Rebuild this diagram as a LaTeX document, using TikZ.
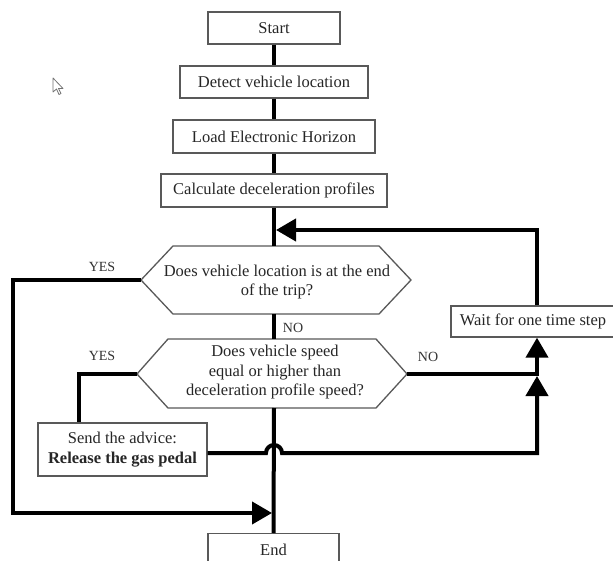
\documentclass[tikz,border=0pt]{standalone}
\usepackage{fontspec}
\setmainfont{Liberation Serif}
\usetikzlibrary{arrows.meta}
\begin{document}
\begin{tikzpicture}[x=1pt,y=-1pt,
  box/.style={draw=black!65, line width=1.3pt, fill=white, inner sep=0pt,
    text=black!85, font=\fontsize{16.5}{19.5}\selectfont, align=center},
  hexline/.style={draw=black!65, line width=1.3pt, fill=white, line join=miter},
  qtext/.style={inner sep=0pt, text=black!85, font=\fontsize{16.5}{19.5}\selectfont, align=center},
  flow/.style={line width=4pt, black, line join=miter},
  tip/.style={-{Triangle[length=20pt,width=22pt]}},
  lbl/.style={inner sep=0pt, text=black!80, font=\fontsize{14}{16}\selectfont}
]
\useasboundingbox (0,0) rectangle (613,561);
\clip (0,0) rectangle (613,561);
\fill[white] (0,0) rectangle (613,561);

% mouse pointer
\draw[black!55, fill=white, line width=0.8pt, line join=round]
  (53,78) -- (53,92) -- (56.5,89) -- (59,94.5) -- (61,93.5) -- (58.5,88.5) -- (63,88.5) -- cycle;

% routing points
\coordinate (q1n) at (274,246);
\coordinate (q1s) at (274,314);
\coordinate (q1w) at (141,280);
\coordinate (q1e) at (411,280);
\coordinate (q2n) at (274,339);
\coordinate (q2s) at (274,408);
\coordinate (q2w) at (137,374);
\coordinate (q2e) at (407,374);
\coordinate (loopTop) at (537,230);
\coordinate (mergeTip) at (276,230);
\coordinate (loopNo) at (537,374);
\coordinate (loopNoTip) at (537,376);
\coordinate (loopSend) at (537,453);
\coordinate (hopL) at (266,453);
\coordinate (yesA) at (13,280);
\coordinate (yesB) at (13,513);
\coordinate (endTip) at (272,513);
\coordinate (yes2A) at (79,374);

% decision shapes
\draw[hexline] (q1w) -- (173,246) -- (379,246) -- (q1e) -- (379,314) -- (173,314) -- cycle;
\draw[hexline] (q2w) -- (168,339) -- (376,339) -- (q2e) -- (376,408) -- (168,408) -- cycle;
\node[qtext] (q1) at (277,282) {Does vehicle location is at the end\\of the trip?};
\node[qtext] (q2) at (275,372.5) {Does vehicle speed\\equal or higher than\\deceleration profile speed?};

% process boxes
\node[box, minimum width=132pt, minimum height=32pt] (start) at (274,28) {Start};
\node[box, minimum width=188pt, minimum height=32pt] (detect) at (274,82) {Detect vehicle location};
\node[box, minimum width=202pt, minimum height=33pt] (load) at (274,136.5) {Load Electronic Horizon};
\node[box, minimum width=226pt, minimum height=33pt] (calc) at (274,190.5) {Calculate deceleration profiles};
\node[box, minimum width=164pt, minimum height=31pt] (wait) at (533,321.5) {Wait for one time step};
\node[box, minimum width=169pt, minimum height=53pt] (send) at (122.5,449.5) {Send the advice:\\\textbf{Release the gas pedal}};
\node[box, minimum width=131pt, minimum height=32pt, anchor=north] (end) at (273.5,533) {End};

% main spine
\draw[flow] (start) -- (detect);
\draw[flow] (detect) -- (load);
\draw[flow] (load) -- (calc);
\draw[flow] (calc.south) -- (q1n);
\draw[flow] (q1s) -- (q2n);
\draw[flow] (q2s) -- (end.north);

% loop back after waiting
\draw[flow, tip] (wait.north -| loopTop) -- (loopTop) -- (mergeTip);

% end of trip reached
\draw[flow, tip] (q1w) -- (yesA) -- (yesB) -- (endTip);

% speed too high: send advice
\draw[flow] (q2w) -- (yes2A) -- (send.north -| yes2A);

% speed fine: wait
\draw[flow, tip] (q2e) -- (loopNo) -- (wait.south -| loopNo);

% after advice: wait (hopping over the spine)
\draw[flow, tip] (send.east |- hopL) -- (hopL) arc[start angle=180, end angle=360, radius=8]
  -- (loopSend) -- (loopNoTip);

% branch labels
\node[lbl] (yes1) at (102,267) {YES};
\node[lbl] (no1) at (293,328) {NO};
\node[lbl] (yes2) at (102,356) {YES};
\node[lbl] (no2) at (428,357) {NO};
\end{tikzpicture}
\end{document}
